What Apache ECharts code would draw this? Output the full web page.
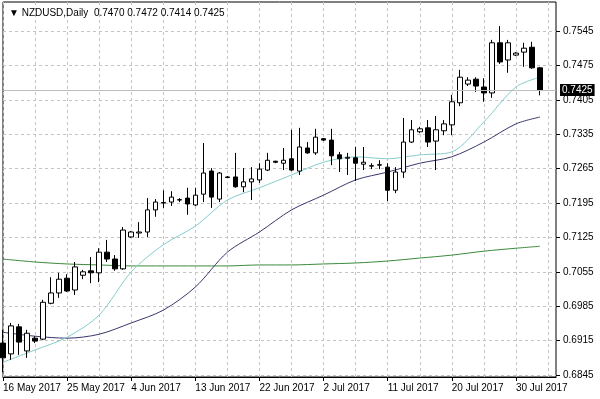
<!DOCTYPE html>
<html>
<head>
<meta charset="utf-8">
<script src="https://cdn.jsdelivr.net/npm/echarts@6/dist/echarts.min.js"></script>
<style>
  html, body { margin: 0; padding: 0; background: #fff; }
  #chart { width: 600px; height: 399px; }
</style>
</head>
<body>
<div id="chart"></div>
<script>
    // NZDUSD daily bars (MT4 style, Sunday bars included)
    const dates = [
        '16 May 2017', '17 May 2017', '18 May 2017', '19 May 2017', '21 May 2017', '22 May 2017', '23 May 2017',
        '24 May 2017', '25 May 2017', '26 May 2017', '28 May 2017', '29 May 2017', '30 May 2017', '31 May 2017',
        '1 Jun 2017', '2 Jun 2017', '4 Jun 2017', '5 Jun 2017', '6 Jun 2017', '7 Jun 2017', '8 Jun 2017',
        '9 Jun 2017', '11 Jun 2017', '12 Jun 2017', '13 Jun 2017', '14 Jun 2017', '15 Jun 2017', '16 Jun 2017',
        '18 Jun 2017', '19 Jun 2017', '20 Jun 2017', '21 Jun 2017', '22 Jun 2017', '23 Jun 2017', '25 Jun 2017',
        '26 Jun 2017', '27 Jun 2017', '28 Jun 2017', '29 Jun 2017', '30 Jun 2017', '2 Jul 2017', '3 Jul 2017',
        '4 Jul 2017', '5 Jul 2017', '6 Jul 2017', '7 Jul 2017', '9 Jul 2017', '10 Jul 2017', '11 Jul 2017',
        '12 Jul 2017', '13 Jul 2017', '14 Jul 2017', '16 Jul 2017', '17 Jul 2017', '18 Jul 2017', '19 Jul 2017',
        '20 Jul 2017', '21 Jul 2017', '23 Jul 2017', '24 Jul 2017', '25 Jul 2017', '26 Jul 2017', '27 Jul 2017',
        '28 Jul 2017', '30 Jul 2017', '31 Jul 2017', '1 Aug 2017', '2 Aug 2017'
    ];
    const open = [
        0.6910, 0.6888, 0.6943, 0.6894, 0.6920, 0.6918, 0.6991, 0.7012, 0.7042, 0.7018,
        0.7048, 0.7057, 0.7053, 0.7095, 0.7081, 0.7061, 0.7126, 0.7134, 0.7136, 0.7181,
        0.7195, 0.7197, 0.7201, 0.7205, 0.7191, 0.7213, 0.7260, 0.7203, 0.7248, 0.7248,
        0.7228, 0.7238, 0.7242, 0.7262, 0.7280, 0.7276, 0.7285, 0.7260, 0.7307, 0.7297,
        0.7326, 0.7323, 0.7293, 0.7286, 0.7287, 0.7274, 0.7270, 0.7272, 0.7268, 0.7221,
        0.7258, 0.7319, 0.7340, 0.7348, 0.7321, 0.7342, 0.7354, 0.7399, 0.7437, 0.7447,
        0.7431, 0.7419, 0.7521, 0.7486, 0.7496, 0.7502, 0.7512, 0.7470
    ];
    const high = [
        0.6937, 0.6951, 0.6949, 0.6937, 0.6924, 0.6998, 0.7044, 0.7053, 0.7050, 0.7075,
        0.7059, 0.7085, 0.7103, 0.7120, 0.7089, 0.7146, 0.7138, 0.7156, 0.7205, 0.7203,
        0.7221, 0.7219, 0.7205, 0.7226, 0.7226, 0.7317, 0.7266, 0.7258, 0.7250, 0.7297,
        0.7266, 0.7268, 0.7276, 0.7297, 0.7281, 0.7307, 0.7344, 0.7348, 0.7319, 0.7346,
        0.7327, 0.7346, 0.7299, 0.7297, 0.7309, 0.7309, 0.7276, 0.7282, 0.7276, 0.7268,
        0.7368, 0.7364, 0.7350, 0.7364, 0.7372, 0.7364, 0.7415, 0.7466, 0.7451, 0.7451,
        0.7449, 0.7527, 0.7555, 0.7527, 0.7502, 0.7521, 0.7523, 0.7472
    ];
    const low = [
        0.6851, 0.6876, 0.6886, 0.6880, 0.6910, 0.6916, 0.6989, 0.7002, 0.7014, 0.7008,
        0.7040, 0.7032, 0.7034, 0.7075, 0.7057, 0.7059, 0.7124, 0.7124, 0.7126, 0.7167,
        0.7185, 0.7189, 0.7197, 0.7171, 0.7189, 0.7197, 0.7185, 0.7197, 0.7246, 0.7226,
        0.7217, 0.7201, 0.7236, 0.7260, 0.7276, 0.7262, 0.7260, 0.7252, 0.7295, 0.7293,
        0.7321, 0.7272, 0.7258, 0.7252, 0.7240, 0.7262, 0.7264, 0.7264, 0.7199, 0.7215,
        0.7246, 0.7317, 0.7337, 0.7309, 0.7262, 0.7333, 0.7333, 0.7392, 0.7433, 0.7421,
        0.7401, 0.7409, 0.7478, 0.7460, 0.7494, 0.7472, 0.7468, 0.7414
    ];
    const close = [
        0.6880, 0.6945, 0.6912, 0.6930, 0.6914, 0.6993, 0.7012, 0.7040, 0.7016, 0.7065,
        0.7055, 0.7053, 0.7095, 0.7081, 0.7061, 0.7140, 0.7136, 0.7136, 0.7181, 0.7197,
        0.7196, 0.7207, 0.7202, 0.7193, 0.7211, 0.7256, 0.7207, 0.7256, 0.7247, 0.7228,
        0.7238, 0.7244, 0.7264, 0.7282, 0.7278, 0.7282, 0.7262, 0.7309, 0.7297, 0.7329,
        0.7323, 0.7291, 0.7285, 0.7288, 0.7276, 0.7278, 0.7271, 0.7273, 0.7221, 0.7258,
        0.7319, 0.7344, 0.7346, 0.7319, 0.7344, 0.7356, 0.7401, 0.7451, 0.7445, 0.7433,
        0.7419, 0.7521, 0.7482, 0.7521, 0.7500, 0.7510, 0.7470, 0.7425
    ];

    // moving averages, read at every 4th bar (and the last one)
    const maBars = [0, 4, 8, 12, 16, 20, 24, 28, 32, 36, 40, 44, 48, 52, 56, 60, 64, 67];
    const maFast = [0.6871, 0.6896, 0.6922, 0.6967, 0.7055, 0.7110, 0.7148, 0.7201, 0.7226, 0.7252,
        0.7278, 0.7289, 0.7285, 0.7293, 0.7299, 0.7360, 0.7431, 0.7451];
    const maSlow = [0.6932, 0.6924, 0.6920, 0.6928, 0.6951, 0.6977, 0.7024, 0.7095, 0.7136, 0.7181,
        0.7211, 0.7242, 0.7258, 0.7276, 0.7289, 0.7319, 0.7356, 0.7370];
    const maLong = [0.7081, 0.7075, 0.7071, 0.7069, 0.7067, 0.7067, 0.7067, 0.7067, 0.7069, 0.7069,
        0.7071, 0.7073, 0.7077, 0.7083, 0.7089, 0.7097, 0.7103, 0.7107];

    const priceTicks = [0.6845, 0.6915, 0.6985, 0.7055, 0.7125, 0.7195, 0.7265, 0.7335, 0.7405, 0.7475, 0.7545];
    const bid = 0.7425;

    const FONT = '"Liberation Sans", Arial, sans-serif';
    const GRID_LINE = { color: '#c4c4c4', type: [3, 3], width: 1 };

    const last = dates.length - 1;
    const title = 'NZDUSD,Daily  ' + [open[last], high[last], low[last], close[last]].map(v => v.toFixed(4)).join(' ');

    // two empty slots on the right, like the MT4 chart shift
    const axisDates = dates.concat(['', '']);
    const candles = dates.map((d, i) => [open[i], close[i], low[i], high[i]]);
    const maSeries = (vals) => maBars.map((b, i) => [b, vals[i]]);

    const chart = echarts.init(document.getElementById('chart'));
    chart.setOption({
        animation: false,
        backgroundColor: '#fff',
        title: {
            text: '▼ ' + title,
            left: 4,
            top: 3,
            textStyle: { fontFamily: FONT, fontSize: 10, fontWeight: 'normal', color: '#000' }
        },
        grid: {
            left: 3,
            right: 44,
            top: 2,
            bottom: 22,
            show: true,
            borderColor: '#000',
            borderWidth: 1,
            backgroundColor: '#fff'
        },
        xAxis: {
            type: 'category',
            data: axisDates,
            boundaryGap: false,
            axisLine: { show: true, lineStyle: { color: '#000' } },
            axisTick: { interval: 7, length: 4, lineStyle: { color: '#000' } },
            axisLabel: {
                interval: 7,
                align: 'left',
                margin: 6,
                color: '#000',
                fontFamily: FONT,
                fontSize: 10
            },
            splitLine: { show: true, interval: 3, lineStyle: GRID_LINE }
        },
        yAxis: {
            type: 'value',
            position: 'right',
            scale: true,
            min: 0.6841,
            max: 0.7604,
            axisLine: { show: false },
            axisTick: { show: true, length: 4, customValues: priceTicks, lineStyle: { color: '#000' } },
            axisLabel: {
                customValues: priceTicks,
                margin: 7,
                color: '#000',
                fontFamily: FONT,
                fontSize: 10,
                formatter: v => v.toFixed(4)
            },
            splitLine: { show: true, lineStyle: GRID_LINE }
        },
        series: [
            {
                name: 'MA200',
                type: 'line',
                data: maSeries(maLong),
                showSymbol: false,
                smooth: 0.3,
                lineStyle: { color: '#3a8a3a', width: 1 },
                markLine: {
                    symbol: 'none',
                    silent: true,
                    precision: 4,
                    data: [{ yAxis: bid }],
                    lineStyle: { color: '#bdbdbd', type: 'solid', width: 1 },
                    label: {
                        position: 'end',
                        distance: 4,
                        formatter: bid.toFixed(4),
                        backgroundColor: '#000',
                        color: '#fff',
                        padding: [1, 2],
                        fontFamily: FONT,
                        fontSize: 10
                    }
                },
                z: 2
            },
            {
                name: 'MA slow',
                type: 'line',
                data: maSeries(maSlow),
                showSymbol: false,
                smooth: 0.3,
                lineStyle: { color: '#38386e', width: 1 },
                z: 2
            },
            {
                name: 'MA fast',
                type: 'line',
                data: maSeries(maFast),
                showSymbol: false,
                smooth: 0.3,
                lineStyle: { color: '#86cccc', width: 1 },
                z: 2
            },
            {
                name: 'NZDUSD',
                type: 'candlestick',
                data: candles,
                barWidth: 5,
                itemStyle: {
                    color: '#fff',
                    color0: '#000',
                    borderColor: '#000',
                    borderColor0: '#000',
                    borderWidth: 1
                },
                z: 3
            }
        ]
    });
</script>
</body>
</html>
